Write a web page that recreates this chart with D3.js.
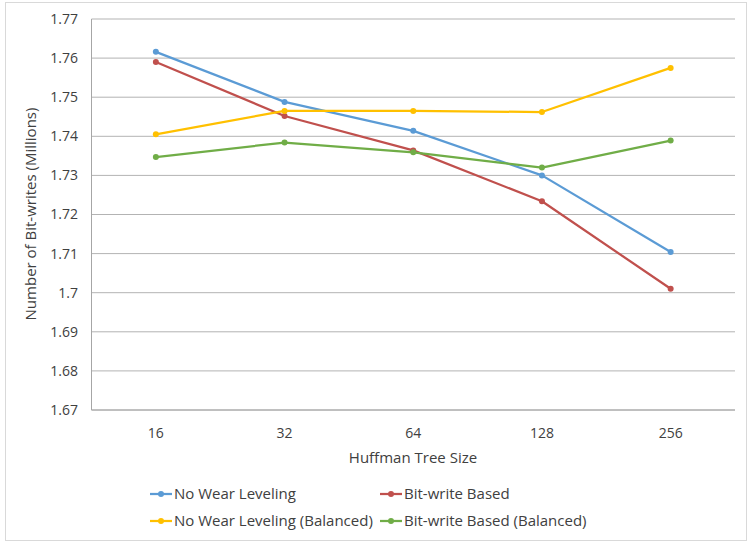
<!DOCTYPE html>
<html>
<head>
<meta charset="utf-8">
<script src="https://d3js.org/d3.v7.min.js"></script>
<style>
  body { margin: 0; background: #fff; }
  text { font-family: "Open Sans", "Liberation Sans", sans-serif; fill: #404040; }
</style>
</head>
<body>
<div id="chart"></div>
<script>
// chart values
var treeSizes = ["16", "32", "64", "128", "256"];
var yTicks = [1.67, 1.68, 1.69, 1.70, 1.71, 1.72, 1.73, 1.74, 1.75, 1.76, 1.77];
var seriesNames = ["No Wear Leveling", "Bit-write Based", "No Wear Leveling (Balanced)", "Bit-write Based (Balanced)"];
var noWearLeveling = [1.7616, 1.7488, 1.7414, 1.7300, 1.7104];
var bitWriteBased = [1.7590, 1.7452, 1.7364, 1.7234, 1.7010];
var noWearBalanced = [1.7405, 1.7465, 1.7465, 1.7462, 1.7575];
var bitWriteBalanced = [1.7347, 1.7384, 1.7359, 1.7320, 1.7389];
var colors = ["#5B9BD5", "#C0504D", "#FFC000", "#70AD47"];

var allSeries = [noWearLeveling, bitWriteBased, noWearBalanced, bitWriteBalanced];

var W = 748, H = 542;
var svg = d3.select("#chart").append("svg").attr("width", W).attr("height", H);

// outer chart frame
svg.append("rect").attr("x", 5.5).attr("y", 2.5).attr("width", 741).attr("height", 538)
  .attr("fill", "#fff").attr("stroke", "#d9d9d9");

var plotL = 91.5, plotR = 735, plotT = 19, plotB = 410;

var x = d3.scaleBand().domain(treeSizes).range([plotL, plotR]);
var y = d3.scaleLinear().domain([1.67, 1.77]).range([plotB, plotT]);

// gridlines
svg.append("g").selectAll("line").data(yTicks).enter().append("line")
  .attr("x1", plotL).attr("x2", plotR)
  .attr("y1", function (d) { return y(d); }).attr("y2", function (d) { return y(d); })
  .attr("stroke", "#b3b3b3").attr("stroke-width", 1);

// axis lines
svg.append("line").attr("x1", plotL).attr("x2", plotL).attr("y1", plotT).attr("y2", plotB)
  .attr("stroke", "#a6a6a6");
svg.append("line").attr("x1", plotL).attr("x2", plotR).attr("y1", plotB).attr("y2", plotB)
  .attr("stroke", "#a6a6a6");

// y tick labels
svg.append("g").selectAll("text").data(yTicks).enter().append("text")
  .attr("x", 78).attr("y", function (d) { return y(d); }).attr("dy", "0.35em")
  .attr("text-anchor", "end").style("font-size", "14px")
  .text(function (d) { return String(+d.toFixed(2)); });

// x tick labels
svg.append("g").selectAll("text").data(treeSizes).enter().append("text")
  .attr("x", function (d) { return x(d) + x.bandwidth() / 2; }).attr("y", 438)
  .attr("text-anchor", "middle").style("font-size", "14px")
  .text(function (d) { return d; });

// axis titles
svg.append("text").attr("x", 413).attr("y", 463).attr("text-anchor", "middle")
  .style("font-size", "15px").text("Huffman Tree Size");
svg.append("text").attr("transform", "translate(36,214) rotate(-90)")
  .attr("text-anchor", "middle").style("font-size", "15px")
  .text("Number of Bit-writes (Millions)");

// series lines and markers
var line = d3.line()
  .x(function (d, i) { return x(treeSizes[i]) + x.bandwidth() / 2; })
  .y(function (d) { return y(d); });

allSeries.forEach(function (vals, k) {
  svg.append("path").datum(vals).attr("d", line)
    .attr("fill", "none").attr("stroke", colors[k]).attr("stroke-width", 2.25)
    .attr("stroke-linejoin", "round");
  svg.append("g").selectAll("circle").data(vals).enter().append("circle")
    .attr("cx", function (d, i) { return x(treeSizes[i]) + x.bandwidth() / 2; })
    .attr("cy", function (d) { return y(d); })
    .attr("r", 3).attr("fill", colors[k]);
});

// legend
var legendPos = [[150, 494], [380, 494], [150, 521], [380, 521]];
seriesNames.forEach(function (name, k) {
  var g = svg.append("g").attr("transform", "translate(" + legendPos[k][0] + "," + legendPos[k][1] + ")");
  g.append("line").attr("x1", 0).attr("x2", 22).attr("y1", 0).attr("y2", 0)
    .attr("stroke", colors[k]).attr("stroke-width", 2.25);
  g.append("circle").attr("cx", 11).attr("cy", 0).attr("r", 3).attr("fill", colors[k]);
  g.append("text").attr("x", 24).attr("y", 0).attr("dy", "0.35em")
    .style("font-size", "15px").text(name);
});
</script>
</body>
</html>
